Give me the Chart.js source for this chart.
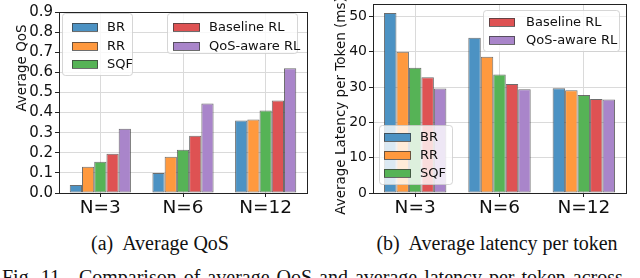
<!DOCTYPE html>
<html>
<head>
<meta charset="utf-8">
<script src="https://cdn.jsdelivr.net/npm/chart.js@4.4.1/dist/chart.umd.min.js"></script>
<style>
  html, body { margin: 0; padding: 0; background: #fff; overflow: hidden; }
  #page { position: relative; width: 640px; height: 278px; overflow: hidden; }
  .panel { position: absolute; top: 0; width: 320px; height: 222px; }
  .cap { position: absolute; font-family: 'Liberation Serif', serif; font-size: 20px; color: #111; white-space: nowrap; transform: translateX(-50%); }
  #fig { position: absolute; left: 2px; top: 266px; font-family: 'Liberation Serif', serif; font-size: 20px; color: #111; white-space: nowrap; word-spacing: 2px; }
</style>
</head>
<body>
<div id="page">
  <div class="panel" style="left:0"><canvas id="qos" width="320" height="222"></canvas></div>
  <div class="panel" style="left:320px"><canvas id="lat" width="320" height="222"></canvas></div>
  <div class="cap" style="left:160px; top:232px">(a)&nbsp; Average QoS</div>
  <div class="cap" style="left:497px; top:232px">(b)&nbsp; Average latency per token</div>
  <div id="fig">Fig. 11.&nbsp; Comparison of average QoS and average latency per token across</div>
</div>
<script>
const categories = ['N=3', 'N=6', 'N=12'];
const seriesNames = ['BR', 'RR', 'SQF', 'Baseline RL', 'QoS-aware RL'];

// average QoS
const qosBR = [0.04, 0.10, 0.36];
const qosRR = [0.13, 0.18, 0.365];
const qosSQF = [0.155, 0.215, 0.41];
const qosBaseline = [0.195, 0.285, 0.46];
const qosAware = [0.32, 0.445, 0.62];
const qosTicks = [0, 0.1, 0.2, 0.3, 0.4, 0.5, 0.6, 0.7, 0.8, 0.9];

// average latency per token (ms)
const latBR = [51, 44, 29.7];
const latRR = [40, 38.6, 29.1];
const latSQF = [35.5, 33.6, 27.8];
const latBaseline = [32.8, 30.9, 26.6];
const latAware = [29.6, 29.4, 26.5];
const latTicks = [0, 10, 20, 30, 40, 50];

const fills = ['#4c92c3', '#ff993e', '#56b356', '#de5253', '#a985ca'];
const FONT = "'DejaVu Sans', sans-serif";

function makeDatasets(series) {
    return series.map((vals, i) => ({
        label: seriesNames[i],
        data: vals,
        backgroundColor: fills[i],
        borderColor: 'rgba(60,60,60,0.75)',
        borderWidth: 1,
        borderSkipped: false,
        categoryPercentage: 0.74,
        barPercentage: 1.0
    }));
}

// frame around the plot area
const frame = {
    id: 'frame',
    afterDraw(chart) {
        const a = chart.chartArea, c = chart.ctx;
        c.save();
        c.strokeStyle = '#222';
        c.lineWidth = 1;
        c.strokeRect(Math.round(a.left) + 0.5, Math.round(a.top) + 0.5,
            Math.round(a.right - a.left), Math.round(a.bottom - a.top));
        c.restore();
    }
};

// rotated y axis title at a fixed spot
const yTitle = {
    id: 'yTitle',
    afterDraw(chart, args, o) {
        const c = chart.ctx;
        c.save();
        c.translate(o.x, o.y);
        c.rotate(-Math.PI / 2);
        c.font = o.size + 'px ' + FONT;
        c.fillStyle = '#111';
        c.textAlign = 'center';
        c.textBaseline = 'middle';
        c.fillText(o.text, 0, 0);
        c.restore();
    }
};

// matplotlib-like legend boxes, several per chart
const boxLegends = {
    id: 'boxLegends',
    afterDatasetsDraw(chart, args, opts) {
        const c = chart.ctx;
        (opts.boxes || []).forEach(b => {
            c.save();
            c.beginPath();
            c.roundRect(b.x + 0.5, b.y + 0.5, b.w, b.h, 3);
            c.fillStyle = 'rgba(255,255,255,0.8)';
            c.fill();
            c.strokeStyle = 'rgba(204,204,204,0.8)';
            c.lineWidth = 1;
            c.stroke();
            b.items.forEach((di, k) => {
                const ds = chart.data.datasets[di];
                const cy = b.rows[k];
                c.fillStyle = ds.backgroundColor;
                c.fillRect(b.sx, cy - 4, b.sw, 8);
                c.strokeStyle = ds.borderColor;
                c.strokeRect(b.sx + 0.5, cy - 4 + 0.5, b.sw - 1, 8);
                c.fillStyle = '#111';
                c.font = '13px ' + FONT;
                c.textBaseline = 'middle';
                c.fillText(ds.label, b.tx, cy + 1);
            });
            c.restore();
        });
    }
};

function makeChart(id, series, yTicks, yMax, title, yWidth, tickSize, pad, boxes, fmt) {
    return new Chart(document.getElementById(id), {
        type: 'bar',
        data: { labels: categories, datasets: makeDatasets(series) },
        options: {
            responsive: false,
            animation: false,
            devicePixelRatio: 1,
            layout: { padding: pad },
            scales: {
                x: {
                    offset: true,
                    grid: { offset: false, color: '#dadada', tickColor: '#222', tickLength: 4 },
                    border: { display: false },
                    ticks: { color: '#111', font: { size: 18.5, family: FONT }, padding: 0, autoSkip: false, maxRotation: 0 },
                    afterFit(s) { s.height = 29; s.paddingLeft = 0; s.paddingRight = 0; }
                },
                y: {
                    min: 0,
                    max: yMax,
                    grid: { color: '#dadada', tickColor: '#222', tickLength: 4 },
                    border: { display: false },
                    afterBuildTicks(s) { s.ticks = yTicks.map(v => ({ value: v })); },
                    ticks: { color: '#111', font: { size: tickSize, family: FONT }, padding: 2, autoSkip: false, callback: fmt },
                    afterFit(s) { s.width = yWidth; s.paddingTop = 0; s.paddingBottom = 0; }
                }
            },
            plugins: {
                legend: { display: false },
                tooltip: { enabled: false },
                boxLegends: { boxes: boxes },
                yTitle: title
            }
        },
        plugins: [frame, boxLegends, yTitle]
    });
}

makeChart('qos', [qosBR, qosRR, qosSQF, qosBaseline, qosAware], qosTicks, 0.9,
    { text: 'Average QoS', x: 22, y: 68, size: 13.5 }, 59, 15,
    { top: 12, right: 13, left: 0, bottom: 0 },
    [
        { items: [0, 1, 2], x: 62, y: 13, w: 70, h: 62, rows: [27, 46, 64], sx: 72, sw: 26, tx: 107 },
        { items: [3, 4], x: 167, y: 13, w: 130, h: 40, rows: [27, 46], sx: 173, sw: 27, tx: 209 }
    ],
    v => v.toFixed(1));

makeChart('lat', [latBR, latRR, latSQF, latBaseline, latAware], latTicks, 53.55,
    { text: 'Average Latency per Token (ms)', x: 21, y: 106, size: 13.5 }, 53, 14,
    { top: 4, right: 14, left: 0, bottom: 0 },
    [
        { items: [0, 1, 2], x: 59, y: 125, w: 73, h: 59, rows: [137, 155, 173], sx: 64, sw: 27, tx: 100 },
        { items: [3, 4], x: 163, y: 10, w: 136, h: 41, rows: [22, 40], sx: 169, sw: 26, tx: 206 }
    ],
    v => String(v));
</script>
</body>
</html>
